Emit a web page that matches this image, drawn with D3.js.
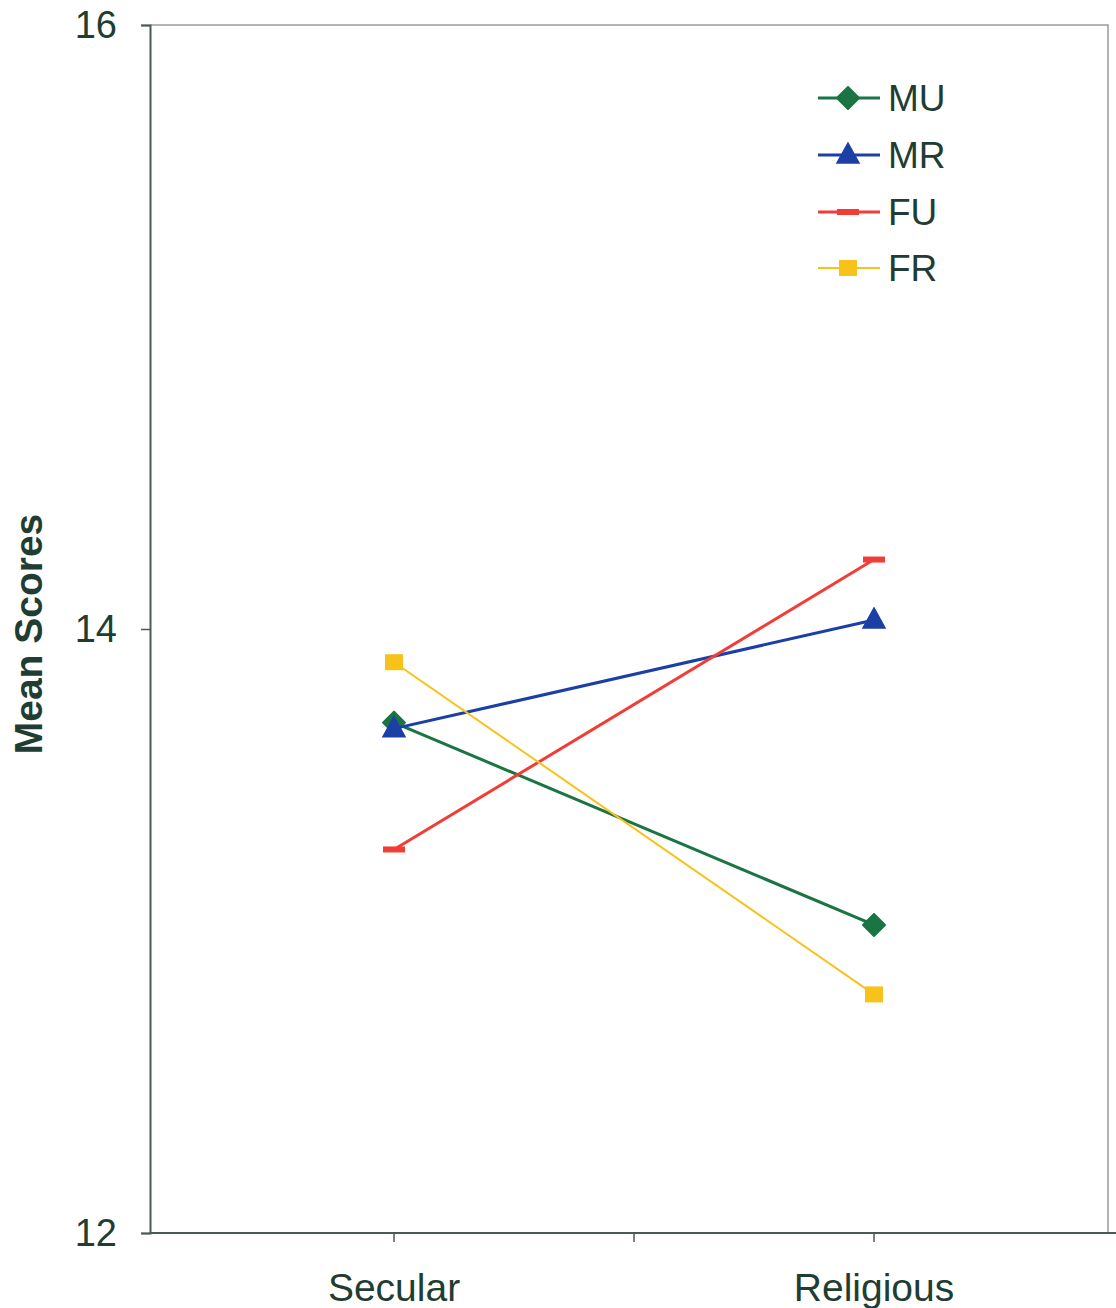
<!DOCTYPE html>
<html>
<head>
<meta charset="utf-8">
<script src="https://cdn.jsdelivr.net/npm/d3@7"></script>
<style>
  html, body { margin: 0; padding: 0; background: #ffffff; }
  svg { display: block; }
  text { font-family: "Liberation Sans", Arial, sans-serif; fill: #1f3d33; }
</style>
</head>
<body>
<script>
const categories = ["Secular", "Religious"];
const seriesNames = ["MU", "MR", "FU", "FR"];
const MU = [13.69, 13.02];
const MR = [13.67, 14.03];
const FU = [13.27, 14.23];
const FR = [13.89, 12.79];
const yTicks = [12, 14, 16];
const seriesColors = ["#1b7444", "#1c3fa6", "#f23d36", "#f7c21a"];
const seriesSymbols = ["diamond", "triangle", "dash", "square"];

(function () {
const W = 1116, H = 1308;
const svg = d3.select("body").append("svg").attr("width", W).attr("height", H);

const pLeft = 150, pRight = 1108, pTop = 25, pBottom = 1233;

const x = d3.scaleBand().domain(categories).range([154, 1114]).padding(0);
const y = d3.scaleLinear().domain([12, 16]).range([pBottom, pTop]);

// plot border (top & right)
svg.append("path")
  .attr("d", `M${pLeft},${pTop}H${pRight}V${pBottom}`)
  .attr("fill", "none").attr("stroke", "#9a9a9a").attr("stroke-width", 1.5);

// y axis
const yAxis = d3.axisLeft(y).tickValues(yTicks).tickSize(9).tickPadding(24).tickFormat(d3.format("d"));
const gy = svg.append("g").attr("transform", `translate(${pLeft},0)`).call(yAxis);
gy.select(".domain").attr("stroke", "#4a5a55").attr("stroke-width", 2);
gy.selectAll(".tick line").attr("stroke", "#4a5a55").attr("stroke-width", 1.5);
gy.selectAll(".tick text").attr("font-size", 38).attr("fill", "#1f3d33")
  .attr("font-family", "Liberation Sans, Arial, sans-serif");

// x axis
const xAxis = d3.axisBottom(x).tickSize(0).tickPadding(40);
const gx = svg.append("g").attr("transform", `translate(0,${pBottom})`).call(xAxis);
gx.select(".domain").attr("d", `M${pLeft},0H1116`).attr("stroke", "#4a5a55").attr("stroke-width", 2);
gx.selectAll(".tick text").attr("font-size", 39).attr("fill", "#1f3d33")
  .attr("font-family", "Liberation Sans, Arial, sans-serif");
// category tick marks at centers and band boundary
const xTickPos = [x(categories[0]) + x.bandwidth() / 2, x(categories[1]), x(categories[1]) + x.bandwidth() / 2];
gx.selectAll("line.xt").data(xTickPos).enter().append("line").attr("class", "xt")
  .attr("x1", d => d).attr("x2", d => d).attr("y1", 0).attr("y2", 9)
  .attr("stroke", "#4a5a55").attr("stroke-width", 1.5);

// y axis title
svg.append("text")
  .attr("transform", `translate(42,${(pTop + pBottom) / 2 + 5}) rotate(-90)`)
  .attr("text-anchor", "middle")
  .attr("font-size", 39).attr("font-weight", "bold")
  .text("Mean Scores");

const seriesData = [MU, MR, FU, FR];
const cx = c => x(c) + x.bandwidth() / 2;

function drawMarker(g, sym, color, px, py) {
  if (sym === "diamond") {
    g.append("path").attr("d", `M${px},${py - 11}L${px + 11},${py}L${px},${py + 11}L${px - 11},${py}Z`)
      .attr("fill", color).attr("stroke", color).attr("stroke-width", 2).attr("stroke-linejoin", "round");
  } else if (sym === "triangle") {
    g.append("path").attr("d", `M${px},${py - 12}L${px + 11},${py + 8}L${px - 11},${py + 8}Z`)
      .attr("fill", color).attr("stroke", color).attr("stroke-width", 1.5);
  } else if (sym === "dash") {
    g.append("rect").attr("x", px - 11).attr("y", py - 3).attr("width", 22).attr("height", 6).attr("fill", color);
  } else if (sym === "square") {
    g.append("rect").attr("x", px - 9).attr("y", py - 8).attr("width", 18).attr("height", 16).attr("fill", color);
  }
}

const line = d3.line().x((d, i) => cx(categories[i])).y(d => y(d));
seriesData.forEach((vals, si) => {
  const g = svg.append("g");
  g.append("path").datum(vals).attr("d", line)
    .attr("fill", "none").attr("stroke", seriesColors[si])
    .attr("stroke-width", si === 3 ? 2 : 3);
  vals.forEach((v, i) => drawMarker(g, seriesSymbols[si], seriesColors[si], cx(categories[i]), y(v)));
});

// legend
const legY = [98, 155, 212, 268];
seriesNames.forEach((name, si) => {
  const g = svg.append("g");
  g.append("line").attr("x1", 818).attr("x2", 880).attr("y1", legY[si]).attr("y2", legY[si])
    .attr("stroke", seriesColors[si]).attr("stroke-width", si === 3 ? 2 : 3);
  drawMarker(g, seriesSymbols[si], seriesColors[si], 848, legY[si]);
  g.append("text").attr("x", 888).attr("y", legY[si]).attr("dy", "0.36em")
    .attr("font-size", 37).text(name);
});
})();
</script>
</body>
</html>
